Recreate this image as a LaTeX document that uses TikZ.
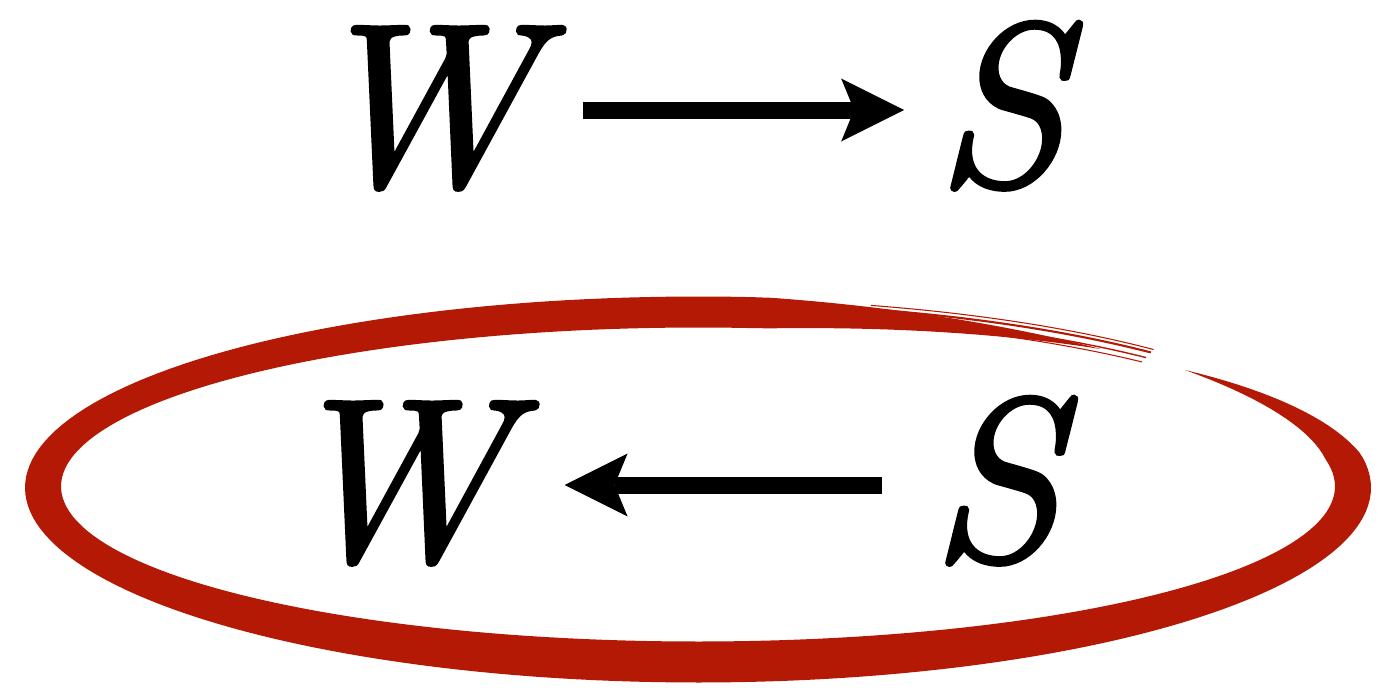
\documentclass[tikz,border=0pt]{standalone}
\usepackage{fontspec}
\newfontfamily\letterfont{lmroman10-italic.otf}[FakeBold=1.5]
\definecolor{inkred}{RGB}{180, 25, 5}
\usetikzlibrary{arrows.meta}

\begin{document}
\begin{tikzpicture}[
    letter/.style={font=\fontsize{66}{66}\selectfont\letterfont, inner sep=0pt,
                   anchor=base, text height=1.5cm, text depth=0pt},
    bigarrow/.style={line width=1.7mm,
                     -{Stealth[length=6.3mm, width=6.3mm, inset=1.3mm, line width=0pt]}},
    declare function={strokew(\t)=(0.36-0.05*sin(\t))*min(1,(42-\t)/32)*min(1,(\t+308)/32);}
]
\useasboundingbox (0,0) rectangle (13.78,6.89);

% top row: W --> S
\node[letter] (wtop) at (4.20,5.04) {W};
\node[letter] (stop) at (10.00,5.04) {S};
\draw[bigarrow, shorten <=4.6mm, shorten >=3mm] (wtop) -- (stop);

% bottom row: W <-- S
\node[letter] (wbot) at (3.93,1.29) {W};
\node[letter] (sbot) at (9.95,1.29) {S};
\draw[bigarrow, shorten <=4.7mm, shorten >=5.5mm] (sbot) -- (wbot);

% hand drawn ring round the bottom row
\fill[inkred] plot[domain=42:-308, samples=200, variable=\t]
        ({6.98+(6.55+strokew(\t)/2)*cos(\t)}, {2.02+(1.75+strokew(\t)/2)*sin(\t)})
    -- plot[domain=-308:42, samples=200, variable=\t]
        ({6.98+(6.55-strokew(\t)/2)*cos(\t)}, {2.02+(1.75-strokew(\t)/2)*sin(\t)})
    -- cycle;
\foreach \r/\lw in {0.09/0.6pt, 0.02/0.4pt, 0.13/0.3pt, -0.04/0.3pt}
    \draw[inkred, line width=\lw] plot[domain=-285:-313, samples=40, variable=\t]
        ({6.98+(6.55+\r)*cos(\t)}, {2.02+(1.75+\r)*sin(\t)});
\end{tikzpicture}
\end{document}
